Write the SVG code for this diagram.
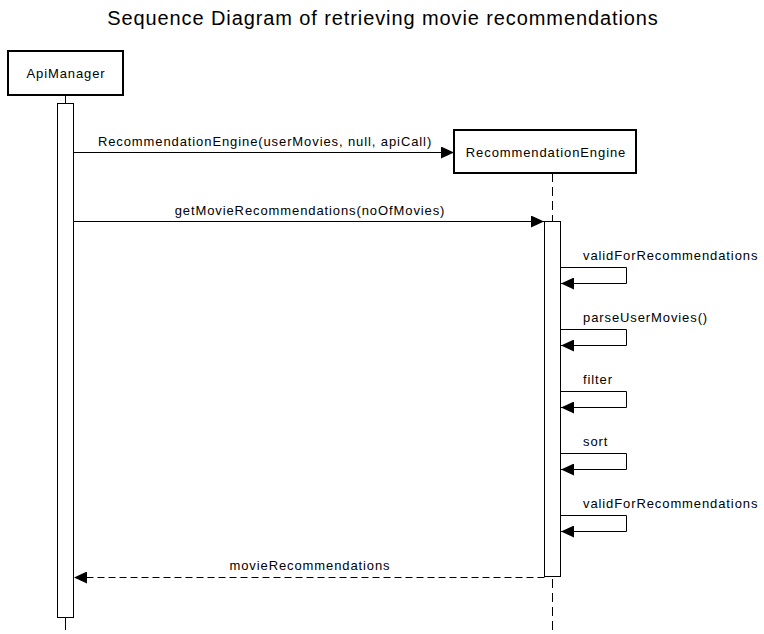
<svg xmlns="http://www.w3.org/2000/svg" width="764" height="634" viewBox="0 0 764 634">
<style>
text{font-family:"Liberation Sans",Arial,sans-serif;fill:#000}
.box{fill:#fff;stroke:#000;stroke-width:2}
.act{fill:#fff;stroke:#000;stroke-width:1}
.ll{stroke:#000;stroke-width:1;fill:none}
.msg{stroke:#000;stroke-width:1;fill:none}
.lbl{font-size:13px;letter-spacing:0.9px}
</style>
<defs>
<marker id="ah" viewBox="0 0 13 12" refX="13" refY="6" markerWidth="13" markerHeight="12" markerUnits="userSpaceOnUse" orient="auto">
<path d="M0,0 L13,6 L0,12 Z" fill="#000"/>
</marker>
</defs>
<rect width="764" height="634" fill="#fff"/>
<text x="383" y="25" font-size="20" letter-spacing="0.9" text-anchor="middle">Sequence Diagram of retrieving movie recommendations</text>
<g id="lifelines">
<line class="ll" x1="65.5" y1="95" x2="65.5" y2="630"/>
<line class="ll" x1="552.5" y1="173" x2="552.5" y2="634" stroke-dasharray="9 5"/>
</g>
<g id="ApiManager">
<rect class="box" x="8" y="51" width="115" height="44"/>
<text class="lbl" x="66" y="78" text-anchor="middle">ApiManager</text>
<rect class="act" x="57.5" y="103.5" width="16" height="514"/>
</g>
<g id="RecommendationEngine">
<rect class="box" x="454" y="130" width="182" height="43"/>
<text class="lbl" x="546" y="157" text-anchor="middle">RecommendationEngine</text>
<rect class="act" x="544.5" y="221.5" width="16" height="355"/>
</g>
<g id="connectors">
<line class="msg" x1="73.5" y1="152.5" x2="454" y2="152.5" marker-end="url(#ah)"/>
<text class="lbl" x="265" y="146" text-anchor="middle">RecommendationEngine(userMovies, null, apiCall)</text>
<line class="msg" x1="73.5" y1="221.5" x2="544" y2="221.5" marker-end="url(#ah)"/>
<text class="lbl" x="310" y="215" text-anchor="middle">getMovieRecommendations(noOfMovies)</text>
<polyline class="msg" points="560.5,267.5 626.5,267.5 626.5,283.5 561,283.5" marker-end="url(#ah)"/>
<text class="lbl" x="583" y="260">validForRecommendations</text>
<polyline class="msg" points="560.5,329.5 626.5,329.5 626.5,345.5 561,345.5" marker-end="url(#ah)"/>
<text class="lbl" x="583" y="322">parseUserMovies()</text>
<polyline class="msg" points="560.5,391.5 626.5,391.5 626.5,407.5 561,407.5" marker-end="url(#ah)"/>
<text class="lbl" x="583" y="384">filter</text>
<polyline class="msg" points="560.5,453.5 626.5,453.5 626.5,469.5 561,469.5" marker-end="url(#ah)"/>
<text class="lbl" x="583" y="446">sort</text>
<polyline class="msg" points="560.5,515.5 626.5,515.5 626.5,531.5 561,531.5" marker-end="url(#ah)"/>
<text class="lbl" x="583" y="508">validForRecommendations</text>
<line class="msg" x1="544.5" y1="577.5" x2="74" y2="577.5" stroke-dasharray="7 4" marker-end="url(#ah)"/>
<text class="lbl" x="310" y="570" text-anchor="middle">movieRecommendations</text>
</g>
</svg>
